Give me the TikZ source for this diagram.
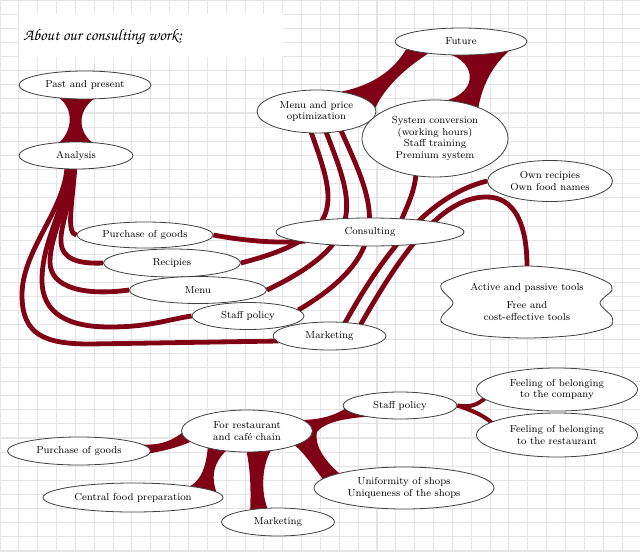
\documentclass[tikz,border=0pt]{standalone}
\usepackage[T1,TU]{fontenc}
\usetikzlibrary{shapes.geometric, calc}
\definecolor{wine}{RGB}{128,0,22}
\pgfdeclarelayer{back}
\pgfsetlayers{back,main}
\tikzset{
  bubble/.style 2 args={ellipse, draw=black!75, line width=0.6pt, fill=white,
    inner sep=0pt, minimum width=#1*0.75pt, minimum height=#2*0.75pt,
    align=center, font=\fontsize{7.6}{8.6}\selectfont},
  link/.style={draw=wine, line width=3.6pt},
  thinlink/.style={draw=wine, line width=3pt},
  band/.style={fill=wine},
  gridline/.style={draw=gray!20, line width=0.8pt}
}

\begin{document}
\begin{tikzpicture}[x=0.75pt, y=-0.75pt]
\useasboundingbox (0,0) rectangle (640,551);

% squared paper
\begin{pgfonlayer}{back}
  \fill[white] (0,0) rectangle (640,551);
  \foreach \i in {0,...,34} \draw[gridline] (\i*18.85,0) -- (\i*18.85,551);
  \foreach \j in {0,...,39} \draw[gridline] (0,\j*14.128) -- (640,\j*14.128);
\end{pgfonlayer}

% title
\fill[white] (18.85,14.13) rectangle (282.75,56.5);
\node[anchor=west, inner sep=0pt, font=\usefont{T1}{pzc}{mb}{it}\fontsize{12.2}{14}\selectfont] (title) at (23,37) {About our consulting work:};

% upper map
\node[bubble={132}{28}] (past) at (85,85) {Past and present};
\node[bubble={114}{27}] (anal) at (76,155.5) {Analysis};
\node[bubble={132}{27}] (future) at (461,41.5) {Future};
\node[bubble={119}{43}] (menuprice) at (316.5,111.5) {Menu and price\\optimization};
\node[bubble={146}{77}] (sysconv) at (435,138.5) {System conversion\\(working hours)\\Staff training\\Premium system};
\node[bubble={125}{41}] (ownrec) at (550,181) {Own recipies\\Own food names};
\node[bubble={188}{28}] (consult) at (370,232) {Consulting};
\node[bubble={136}{26}] (purch) at (145,235) {Purchase of goods};
\node[bubble={137}{28}] (recip) at (172,263) {Recipies};
\node[bubble={137}{27}] (menu) at (198,290) {Menu};
\node[bubble={112}{27}] (staff) at (248,316) {Staff policy};
\node[bubble={113}{28}] (market) at (329.5,336) {Marketing};

% wavy box
\draw[draw=black!75, line width=0.6pt, fill=white, shift={(527,302)}]
  plot[smooth cycle] coordinates {(0,-36) (50,-31) (80,-20) (85,-12) (73,1) (85,15) (82,25) (50,33)
    (0,36) (-50,33) (-83,22) (-85,14) (-74,1) (-85,-12) (-83,-20) (-50,-31)};
\node[align=center, inner sep=0pt, minimum width=169*0.75pt, minimum height=71*0.75pt,
  font=\fontsize{7.6}{8.6}\selectfont] (tools) at (527,302)
  {Active and passive tools\\[5pt]Free and\\cost-effective tools};

% lower map
\node[bubble={131}{42}] (chain) at (247,431) {For restaurant\\and café chain};
\node[bubble={143}{28}] (purchb) at (79,451) {Purchase of goods};
\node[bubble={180}{29}] (central) at (133,497.5) {Central food preparation};
\node[bubble={113}{28}] (marketb) at (278,522) {Marketing};
\node[bubble={114}{27}] (staffb) at (400,405.5) {Staff policy};
\node[bubble={180}{42}] (uniform) at (404,488) {Uniformity of shops\\Uniqueness of the shops};
\node[bubble={161}{43}] (company) at (557,389.5) {Feeling of belonging\\to the company};
\node[bubble={161}{44}] (restaur) at (557,435) {Feeling of belonging\\to the restaurant};

\begin{pgfonlayer}{back}
  % thick bands
  \fill[band] ($(past.south)+(-28,-3)$) .. controls (75,108) and (73,132) .. ($(anal.north)+(-19,3)$)
    -- ($(anal.north)+(19,3)$) .. controls (76,132) and (77,108) .. ($(past.south)+(13,-3)$) -- cycle;
  \fill[band] ($(future.south)+(-55,-6)$) .. controls (395,68) and (375,86) .. ($(menuprice.north)+(19.5,3)$)
    -- ($(menuprice.east)+(-2,-1.5)$) .. controls (385,85) and (410,65) .. ($(future.south)+(-31,-3)$) -- cycle;
  \fill[band] ($(future.south)+(-14,-2)$) .. controls (478,62) and (480,96) .. ($(sysconv.north)+(2,3)$)
    -- ($(sysconv.north)+(43,10)$) .. controls (482,85) and (493,64) .. ($(future.south)+(51,-7)$) -- cycle;

  % analysis bundle
  \draw[link] ($(anal.south)+(-1,-3)$) .. controls (72,205) and (66,234) .. (purch.west);
  \draw[link] ($(anal.south)+(-3,-3)$) .. controls (71,205) and (60,225) .. (61,242)
    .. controls (62,260) and (80,264) .. (recip.west);
  \draw[link] ($(anal.south)+(-5,-3)$) .. controls (69,205) and (50,235) .. (50,262)
    .. controls (50,288) and (85,296) .. (menu.west);
  \draw[link] ($(anal.south)+(-7,-3)$) .. controls (67,205) and (42,240) .. (42,280)
    .. controls (42,315) and (70,327) .. (110,327) .. controls (150,327) and (170,319) .. (staff.west);
  \draw[link] ($(anal.south)+(-9,-3)$) .. controls (65,210) and (22,250) .. (22,295)
    .. controls (22,335) and (45,344) .. (90,344) -- ($(market.west)+(6,5)$);

  % consulting
  \draw[link] (purch.east) .. controls (240,240) and (275,244) .. ($(consult.west)+(30,9)$);
  \draw[link] ($(menuprice.south)+(-6,-3)$) .. controls (335,200) and (350,235) .. (recip.east);
  \draw[link] ($(menuprice.south)+(9,-3)$) .. controls (352,200) and (372,240) .. (menu.east);
  \draw[link] ($(menuprice.south)+(24,-4)$) .. controls (372,200) and (400,250) .. ($(staff.east)+(-6,-6)$);
  \draw[link] ($(sysconv.south)+(-19,-3)$) .. controls (414,195) and (405,210) .. ($(consult.north)+(30,6)$);
  \draw[link] ($(market.north)+(14,4)$) .. controls (385,250) and (430,195) .. (ownrec.west);
  \draw[link] ($(market.north)+(30,5)$) .. controls (400,255) and (440,198) .. (485,197)
    .. controls (515,196) and (527,225) .. (tools.north);

  % lower bands
  \fill[band] ($(purchb.east)+(-20,-7)$) .. controls (155,446) and (168,444) .. ($(chain.west)+(2,1)$)
    -- ($(chain.west)+(14,9)$) .. controls (172,450) and (160,451) .. ($(purchb.east)+(-4,3)$) -- cycle;
  \fill[band] ($(chain.south)+(-39,-7)$) .. controls (206,470) and (200,482) .. ($(central.north)+(53,6)$)
    -- ($(central.north)+(84,11)$) .. controls (211,478) and (212,462) .. ($(chain.south)+(-17,-5)$) -- cycle;
  \fill[band] ($(chain.south)+(-1,-3)$) .. controls (251,470) and (251,495) .. ($(marketb.north)+(-28,6)$)
    -- ($(marketb.north)+(-8,6)$) .. controls (261,498) and (260,468) .. ($(chain.south)+(25,-4)$) -- cycle;
  \fill[band] ($(chain.east)+(-16,-11)$) .. controls (315,420) and (330,418) .. ($(staffb.west)+(3,3)$)
    -- ($(staffb.south)+(-28,-3)$) .. controls (345,418) and (325,422) .. ($(chain.east)+(4,1)$)
    .. controls (314,445) and (325,462) .. ($(uniform.north)+(-62,9)$)
    -- ($(uniform.north)+(-80,14)$) .. controls (312,465) and (302,450) .. ($(chain.east)+(-20,13)$) -- cycle;

  % staff policy
  \draw[thinlink] (staffb.east) .. controls (472,408) and (478,404) .. ($(company.west)+(10,8)$);
  \draw[thinlink] (staffb.east) .. controls (470,410) and (482,414) .. ($(restaur.west)+(16,-12)$);
\end{pgfonlayer}

\end{tikzpicture}
\end{document}
